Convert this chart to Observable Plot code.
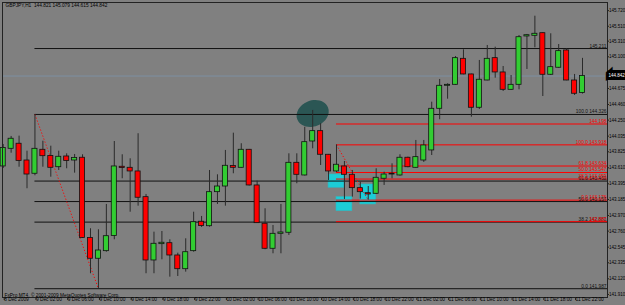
<!DOCTYPE html>
<html>
<head>
<meta charset="utf-8">
<script src="https://cdn.jsdelivr.net/npm/d3@7"></script>
<script src="https://cdn.jsdelivr.net/npm/@observablehq/plot@0.6"></script>
<style>
  html, body { margin: 0; padding: 0; background: #808080; }
  #chart svg { display: block; }
</style>
</head>
<body>
<div id="chart"></div>
<script>
// ---- data (GBPJPY H1, 8 Dec 2009 22:00 .. 11 Dec 2009 23:00) ----
const title = "GBPJPY,H1  144.821 145.079 144.615 144.842";
const copyright = "FxPro MT4, \u00a9 2001-2009 MetaQuotes Software Corp.";

const open = [143.628,143.865,143.933,143.708,143.530,143.852,143.769,143.618,143.762,143.708,
143.745,142.668,142.389,142.491,142.695,143.624,143.610,143.561,143.216,142.366,
142.585,142.598,142.433,142.249,142.491,142.886,142.826,143.283,143.359,143.635,
143.610,143.852,143.373,142.859,142.523,142.724,142.738,143.677,143.507,143.963,
144.102,143.785,143.561,143.628,143.516,143.337,143.269,143.261,143.463,143.520,
143.507,143.745,143.610,143.708,143.843,144.402,144.711,144.724,145.073,144.863,
144.416,144.782,145.082,144.890,144.657,144.724,145.373,145.382,145.417,144.859,
144.953,145.185,144.782,144.615];
const high = [143.923,144.031,144.035,143.833,144.326,143.967,143.900,143.833,143.798,143.789,
143.785,142.792,142.778,143.118,143.963,143.785,143.731,144.067,143.252,142.746,
142.755,142.644,142.464,142.657,143.014,142.957,143.574,143.516,143.843,144.075,
143.933,143.856,143.431,143.060,142.836,143.118,143.798,143.798,144.155,144.380,
144.201,143.789,143.918,143.695,143.574,143.417,143.359,143.597,143.551,143.664,
143.785,143.753,143.977,143.977,144.491,144.796,144.738,145.104,145.194,144.867,
145.051,145.252,145.229,144.970,144.849,145.386,145.400,145.645,145.422,145.409,
145.265,145.208,144.863,145.079];
const low = [143.601,143.806,143.618,143.329,143.503,143.618,143.484,143.574,143.597,143.538,
142.661,142.188,141.987,142.477,142.644,143.463,143.014,143.095,142.188,142.188,
142.375,142.142,142.151,142.209,142.477,142.809,142.813,143.118,143.095,143.530,
143.605,143.366,142.863,142.510,142.456,142.456,142.702,143.396,143.500,143.865,
143.641,143.440,143.547,143.185,143.216,143.190,143.176,143.252,143.373,143.463,
143.498,143.610,143.605,143.682,143.775,144.255,144.531,144.719,144.859,144.290,
144.393,144.778,144.813,144.635,144.648,144.657,144.930,145.221,144.567,144.849,
144.947,144.778,144.581,144.600];
const close = [143.876,144.000,143.702,143.520,143.865,143.766,143.610,143.758,143.702,143.742,
142.668,142.389,142.500,142.692,143.628,143.608,143.561,143.208,142.366,142.590,
142.604,142.433,142.249,142.477,142.880,142.829,143.283,143.359,143.637,143.610,
143.852,143.373,142.867,142.523,142.724,142.742,143.677,143.516,143.954,144.102,
143.785,143.561,143.651,143.516,143.337,143.283,143.252,143.476,143.520,143.530,
143.745,143.618,143.753,143.910,144.402,144.711,144.724,145.082,144.863,144.416,
144.792,145.073,144.890,144.657,144.724,145.363,145.390,145.409,144.859,144.961,
145.176,144.782,144.604,144.842];

const xLabels = ["8 Dec 2009","9 Dec 02:00","9 Dec 06:00","9 Dec 10:00","9 Dec 14:00","9 Dec 18:00",
"9 Dec 22:00","10 Dec 02:00","10 Dec 06:00","10 Dec 10:00","10 Dec 14:00","10 Dec 18:00",
"10 Dec 22:00","11 Dec 02:00","11 Dec 06:00","11 Dec 10:00","11 Dec 14:00","11 Dec 18:00","11 Dec 22:00"];
const xLabelBars = [0,4,8,12,16,20,24,28,32,36,40,44,48,52,56,60,64,68,72];

const yTicks = [145.720,145.510,145.310,145.100,144.885,144.675,144.460,144.250,144.035,143.825,
143.610,143.395,143.185,142.970,142.760,142.545,142.335,142.120,141.910];

const bid = 144.842;

// Fibonacci #1 (black), drawn from bar 4 high to bar 12 low
const fibBlackStart = [4, 144.326];
const fibBlackEnd = [12, 141.987];
const fibBlackPrices = [145.211,144.326,143.432,143.157,142.881,141.987];
const fibBlackLabels = ["145.211","100.0 144.326","61.8 143.432","50.0 143.157","38.2 142.881","0.0 141.987"];
// Fibonacci #2 (red), drawn from bar 42 high to bar 46 low
const fibRedStart = [42, 143.918];
const fibRedEnd = [46, 143.176];
const fibRedPrices = [144.198,143.918,143.634,143.547,143.459,143.176,142.887];
const fibRedLabels = ["144.198","100.0 143.918","61.8 143.634","50.0 143.547","38.2 143.459","0.0 143.176","142.887"];

// cyan rectangles (bar from, bar to, price top, price bottom)
const boxFrom = [41, 42, 45];
const boxTo = [43, 44, 47];
const boxTop = [143.520, 143.216, 143.386];
const boxBottom = [143.342, 143.028, 143.118];

// dark ellipse marking the top
const ellipseBar = [39];
const ellipsePrice = [144.339];

// ---- build ----
const bars = open.map((o, i) => ({i, o, h: high[i], l: low[i], c: close[i]}));
const boxes = boxFrom.map((b, k) => ({x1: b, x2: boxTo[k], y1: boxTop[k], y2: boxBottom[k]}));
const xMax = 76.15;
const blackLines = fibBlackPrices.map((p, k) => ({p, label: fibBlackLabels[k]}));
const redLines = fibRedPrices.map((p, k) => ({p, label: fibRedLabels[k]}));
const ell = ellipseBar.map((b, k) => ({x: b, y: ellipsePrice[k]}));

const ellipseSymbol = {
  draw(ctx) {
    const rx = 16.5, ry = 13, th = -0.38, k = 0.5523;
    const P = (x, y) => [x * Math.cos(th) - y * Math.sin(th), x * Math.sin(th) + y * Math.cos(th)];
    const s = P(rx, 0); ctx.moveTo(s[0], s[1]);
    const seg = (c1, c2, e) => { const a = P(...c1), b = P(...c2), c = P(...e); ctx.bezierCurveTo(a[0], a[1], b[0], b[1], c[0], c[1]); };
    seg([rx, k * ry], [k * rx, ry], [0, ry]);
    seg([-k * rx, ry], [-rx, k * ry], [-rx, 0]);
    seg([-rx, -k * ry], [-k * rx, -ry], [0, -ry]);
    seg([k * rx, -ry], [rx, -k * ry], [rx, 0]);
    ctx.closePath();
  }
};

const GREEN = "#32cd32", RED = "#ff0000", FONT = 4.8, AXFONT = 4.5;

const chart = Plot.plot({
  width: 625,
  height: 305,
  marginLeft: 2,
  marginTop: 2,
  marginRight: 18,
  marginBottom: 8,
  style: {background: "#808080", fontFamily: "'Liberation Sans', Arial, sans-serif", fontSize: FONT + "px", color: "black"},
  x: {type: "linear", domain: [-0.088, xMax], axis: null},
  y: {type: "linear", domain: [141.869, 145.829], axis: null},
  color: {type: "identity"},
  marks: [
    Plot.rect(boxes, {x1: "x1", x2: "x2", y1: "y1", y2: "y2", fill: "#1ccdd6", stroke: "#30b8c0", strokeWidth: 0.6}),
    Plot.dot(ell, {x: "x", y: "y", symbol: ellipseSymbol, fill: "#2b5654", stroke: "none"}),
    Plot.ruleY(blackLines, {y: "p", x1: fibBlackStart[0], x2: xMax, stroke: "#111", strokeWidth: 1}),
    Plot.ruleY(redLines, {y: "p", x1: fibRedStart[0], x2: xMax, stroke: RED, strokeWidth: 1}),
    Plot.link([0], {x1: fibBlackStart[0], y1: fibBlackStart[1], x2: fibBlackEnd[0], y2: fibBlackEnd[1], stroke: RED, strokeDasharray: "1.2,2", strokeWidth: 1}),
    Plot.link([0], {x1: fibRedStart[0], y1: fibRedStart[1], x2: fibRedEnd[0], y2: fibRedEnd[1], stroke: RED, strokeDasharray: "1.2,2", strokeWidth: 1}),
    Plot.ruleY([bid], {y: d => d, stroke: "#7d8fa3", strokeWidth: 1}),
    Plot.ruleX(bars, {x: "i", y1: "l", y2: "h", stroke: "#2a2a2a", strokeWidth: 1}),
    Plot.rect(bars, {x1: d => d.i - 0.32, x2: d => d.i + 0.32, y1: "o", y2: "c",
      fill: d => d.c >= d.o ? GREEN : RED, stroke: "#111", strokeWidth: 0.8}),
    Plot.text(blackLines, {y: "p", text: "label", frameAnchor: "right", textAnchor: "end", lineAnchor: "bottom", dx: -1, dy: -1, fill: "#111", fontSize: FONT}),
    Plot.text(redLines, {y: "p", text: "label", frameAnchor: "right", textAnchor: "end", lineAnchor: "bottom", dx: -1, dy: -1, fill: RED, fontSize: FONT}),
    Plot.frame({stroke: "#222", strokeWidth: 1}),
    Plot.axisY(yTicks, {anchor: "right", tickSize: 1, tickPadding: 0.5, tickFormat: d3.format(".3f"), fontSize: AXFONT, stroke: "#222"}),
    Plot.axisX(xLabelBars, {anchor: "bottom", tickSize: 3, tickPadding: -2.5, textAnchor: "start", dx: 1, fontSize: FONT, stroke: "#222",
      tickFormat: (d) => xLabels[xLabelBars.indexOf(d)]}),
    Plot.text([bid], {y: d => d, text: d => d.toFixed(3), frameAnchor: "right", textAnchor: "start", dx: 1, fill: "white",
      stroke: "black", strokeWidth: 6, strokeLinejoin: "miter", paintOrder: "stroke", fontSize: AXFONT}),
    Plot.text([title], {frameAnchor: "top-left", textAnchor: "start", lineAnchor: "top", dx: 3, dy: 1.5, fill: "black", fontSize: FONT}),
    Plot.text([copyright], {frameAnchor: "bottom-left", textAnchor: "start", lineAnchor: "bottom", dx: 2, dy: -1, fill: "black", fontSize: FONT})
  ]
});
document.getElementById("chart").appendChild(chart);
</script>
</body>
</html>
